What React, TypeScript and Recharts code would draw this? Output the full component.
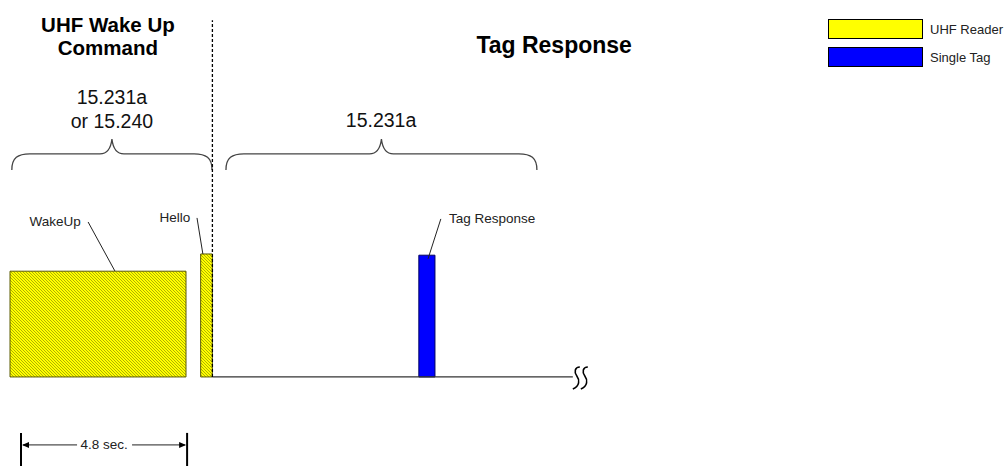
import React from 'react';
import {
  ComposedChart,
  Line,
  XAxis,
  YAxis,
  ReferenceArea,
  ReferenceLine,
  ReferenceDot,
  Legend,
} from 'recharts';

const FONT = '"Liberation Sans", Arial, sans-serif';

// time in seconds along x, signal level along y
const blockNames = ['WakeUp', 'Hello', 'Tag Response'];
const blockStart = [0, 5.2, 11.15];
const blockEnd = [4.8, 5.52, 11.59];
const blockLevel = [8.6, 10, 9.9];
const blockSource = ['UHF Reader', 'UHF Reader', 'Single Tag'];

// callout labels and their leader lines
const calloutX = [1.23, 4.5, 13.15];
const calloutY = [12.68, 12.93, 12.85];
const leaderFromX = [2.13, 5.1, 11.75];
const leaderFromY = [12.6, 12.93, 12.85];
const leaderToX = [2.86, 5.26, 11.4];
const leaderToY = [8.62, 10, 9.6];

// section headings
const titleLines = ['UHF Wake Up', 'Command', 'Tag Response'];
const titleX = [2.67, 2.67, 14.84];
const titleY = [28.62, 26.75, 26.99];
const titleSize = [20.5, 20.5, 23];

// regulation labels over the braces
const ruleLines = ['15.231a', 'or 15.240', '15.231a'];
const ruleX = [2.78, 2.78, 10.12];
const ruleY = [22.77, 20.82, 20.9];
const braceStart = [0.05, 5.89];
const braceEnd = [5.51, 14.37];
const braceTop = 19.35;
const braceBottom = 16.83;

const dividerAt = 5.52;
const dividerTop = 29;

const baselineT = [5.52, 15.35];
const baselineV = [0, 0];
const baseline = baselineT.map((t, i) => ({ t, v: baselineV[i] }));

const spanStart = 0.3;
const spanEnd = 4.83;
const spanLabel = '4.8 sec.';

const legendNames = ['UHF Reader', 'Single Tag'];
const legendColors = ['#ffff00', '#0000ff'];

const sourceFill: Record<string, string> = {
  'UHF Reader': 'url(#hatch)',
  'Single Tag': '#0000ff',
};
const sourceStroke: Record<string, string> = {
  'UHF Reader': '#5a5a00',
  'Single Tag': '#000060',
};

const textShape = (text: string, size: number, bold: boolean, color: string) => (p: any) => (
  <text
    x={p.cx}
    y={p.cy}
    textAnchor="middle"
    dominantBaseline="central"
    fontFamily={FONT}
    fontSize={size}
    fontWeight={bold ? 'bold' : 'normal'}
    fill={color}
  >
    {text}
  </text>
);

const Brace = (p: any) => {
  const { x, y, width: w, height: h } = p;
  const cx = x + w / 2;
  const hm = y + h * 0.48;
  const d = [
    `M ${x} ${y + h}`,
    `C ${x} ${hm + 4}, ${x + 6} ${hm}, ${x + 18} ${hm}`,
    `L ${cx - 12} ${hm}`,
    `C ${cx - 5} ${hm}, ${cx - 1} ${hm - 6}, ${cx} ${y}`,
    `C ${cx + 1} ${hm - 6}, ${cx + 5} ${hm}, ${cx + 12} ${hm}`,
    `L ${x + w - 18} ${hm}`,
    `C ${x + w - 6} ${hm}, ${x + w} ${hm + 4}, ${x + w} ${y + h}`,
  ].join(' ');
  return <path d={d} fill="none" stroke="#444" strokeWidth={1.3} />;
};

// break mark at the end of the time axis
const Squiggle = (p: any) => {
  const { cx, cy } = p;
  const s = (ox: number) =>
    `M ${ox + 6} ${cy - 10} C ${ox + 1} ${cy - 10}, ${ox} ${cy - 5}, ${ox + 3} ${cy - 1} C ${ox + 6} ${cy + 3}, ${ox + 6} ${cy + 9}, ${ox - 1} ${cy + 12}`;
  return (
    <g fill="none" stroke="#000" strokeWidth={1.6}>
      <path d={s(cx + 1)} />
      <path d={s(cx + 9)} />
    </g>
  );
};

const Span = (p: any) => {
  const { x, y, width: w } = p;
  const ly = y + 12;
  const cx = x + w / 2;
  return (
    <g>
      <line x1={x} y1={y} x2={x} y2={y + 40} stroke="#000" strokeWidth={2} />
      <line x1={x + w} y1={y} x2={x + w} y2={y + 40} stroke="#000" strokeWidth={2} />
      <line x1={x + 2} y1={ly} x2={cx - 27} y2={ly} stroke="#222" strokeWidth={1} />
      <line x1={cx + 28} y1={ly} x2={x + w - 2} y2={ly} stroke="#222" strokeWidth={1} />
      <path d={`M ${x + 1} ${ly} L ${x + 8} ${ly - 3} L ${x + 8} ${ly + 3} Z`} fill="#000" />
      <path d={`M ${x + w - 1} ${ly} L ${x + w - 8} ${ly - 3} L ${x + w - 8} ${ly + 3} Z`} fill="#000" />
      <text x={cx} y={ly} textAnchor="middle" dominantBaseline="central" fontFamily={FONT} fontSize={13.5} fill="#222">
        {spanLabel}
      </text>
    </g>
  );
};

const LegendBox = () => (
  <svg width={178} height={50}>
    {legendNames.map((name, i) => (
      <g key={name}>
        <rect x={0.5} y={0.5 + i * 28} width={94} height={19} fill={legendColors[i]} stroke="#000" strokeWidth={1} />
        <text x={102} y={10.5 + i * 28} dominantBaseline="central" fontFamily={FONT} fontSize={13} fill="#222">
          {name}
        </text>
      </g>
    ))}
  </svg>
);

export default function App() {
  return (
    <div style={{ position: 'absolute', left: 0, top: 0, width: 1006, height: 466, background: '#fff' }}>
      <ComposedChart width={1006} height={466} data={baseline} margin={{ top: 8, right: 6, bottom: 0, left: 10 }}>
        <defs>
          <pattern id="hatch" width={3} height={3} patternUnits="userSpaceOnUse">
            <rect width={3} height={3} fill="#ffff00" />
            <g fill="#b0b000" shapeRendering="crispEdges">
              <rect x={0} y={0} width={1} height={1} />
              <rect x={1} y={1} width={1} height={1} />
              <rect x={2} y={2} width={1} height={1} />
            </g>
          </pattern>
        </defs>
        <XAxis type="number" dataKey="t" domain={[0, 27]} allowDataOverflow hide />
        <YAxis type="number" domain={[-7.24, 30]} allowDataOverflow hide />

        {blockNames.map((name, i) => (
          <ReferenceArea
            key={name}
            x1={blockStart[i]}
            x2={blockEnd[i]}
            y1={0}
            y2={blockLevel[i]}
            fill={sourceFill[blockSource[i]]}
            fillOpacity={1}
            stroke={sourceStroke[blockSource[i]]}
            strokeWidth={1}
          />
        ))}

        <Line dataKey="v" stroke="#333" strokeWidth={1.2} dot={false} isAnimationActive={false} />

        <ReferenceLine
          segment={[{ x: dividerAt, y: 0 }, { x: dividerAt, y: dividerTop }]}
          stroke="#000"
          strokeWidth={1.3}
          strokeDasharray="3 2"
        />

        {blockNames.map((name, i) => (
          <ReferenceLine
            key={`leader-${name}`}
            segment={[{ x: leaderFromX[i], y: leaderFromY[i] }, { x: leaderToX[i], y: leaderToY[i] }]}
            stroke="#222"
            strokeWidth={1}
          />
        ))}
        {blockNames.map((name, i) => (
          <ReferenceDot key={`label-${name}`} x={calloutX[i]} y={calloutY[i]} r={0} shape={textShape(name, 13.5, false, '#222')} />
        ))}

        {braceStart.map((s, i) => (
          <ReferenceArea key={`brace-${i}`} x1={s} x2={braceEnd[i]} y1={braceBottom} y2={braceTop} shape={Brace} />
        ))}
        {ruleLines.map((t, i) => (
          <ReferenceDot key={`rule-${i}`} x={ruleX[i]} y={ruleY[i]} r={0} shape={textShape(t, 19.5, false, '#111')} />
        ))}
        {titleLines.map((t, i) => (
          <ReferenceDot key={`title-${i}`} x={titleX[i]} y={titleY[i]} r={0} shape={textShape(t, titleSize[i], true, '#000')} />
        ))}

        <ReferenceDot x={baselineT[1]} y={0} r={0} shape={Squiggle} />
        <ReferenceArea x1={spanStart} x2={spanEnd} y1={-7.24} y2={-4.55} shape={Span} />

        <Legend
          layout="vertical"
          align="center"
          verticalAlign="middle"
          content={LegendBox}
          wrapperStyle={{ top: 19, left: 828, width: 178, height: 50 }}
        />
      </ComposedChart>
    </div>
  );
}
